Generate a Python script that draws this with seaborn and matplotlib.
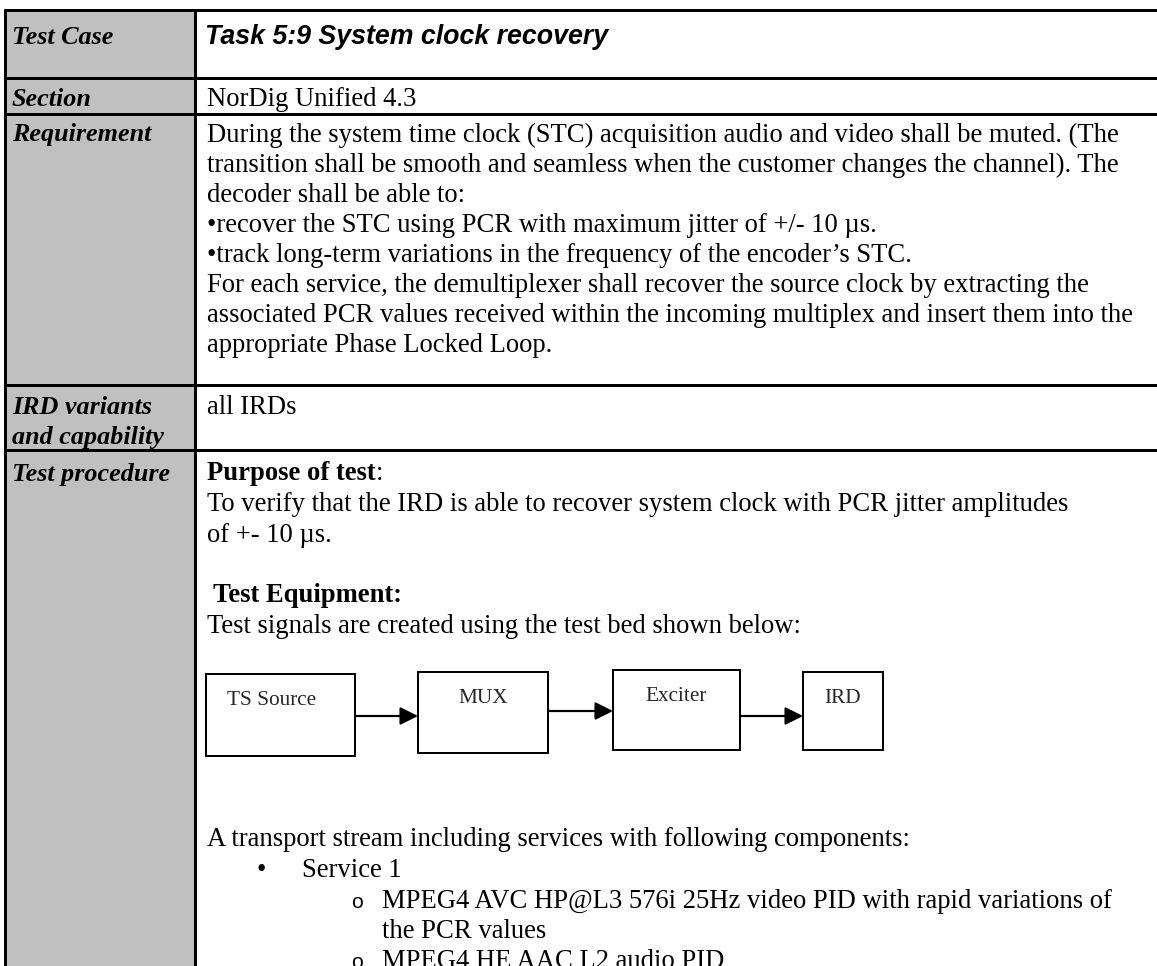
import matplotlib
matplotlib.use("Agg")
import matplotlib.pyplot as plt
import seaborn as sns
from matplotlib.patches import Rectangle

# ---------------- content ----------------
row_labels = [["Test Case"], ["Section"], ["Requirement"],
              ["IRD variants", "and capability"], ["Test procedure"]]
title_text = "Task 5:9 System clock recovery"
section_text = "NorDig Unified 4.3"
requirement_lines = [
    "During the system time clock (STC) acquisition audio and video shall be muted. (The",
    "transition shall be smooth and seamless when the customer changes the channel). The",
    "decoder shall be able to:",
    "\u2022recover the STC using PCR with maximum jitter of +/- 10 \u00b5s.",
    "\u2022track long-term variations in the frequency of the encoder\u2019s STC.",
    "For each service, the demultiplexer shall recover the source clock by extracting the",
    "associated PCR values received within the incoming multiplex and insert them into the",
    "appropriate Phase Locked Loop.",
]
ird_lines = ["all IRDs"]
purpose_heading = "Purpose of test"
purpose_lines = [
    "To verify that the IRD is able to recover system clock with PCR jitter amplitudes",
    "of +- 10 \u00b5s.",
]
equipment_heading = " Test Equipment:"
equipment_line = "Test signals are created using the test bed shown below:"
diagram_labels = ["TS Source", "MUX", "Exciter", "IRD"]
stream_intro = "A transport stream including services with following components:"
service_items = ["Service 1"]
component_items = [
    ["MPEG4 AVC HP@L3 576i 25Hz video PID with rapid variations of", "the PCR values"],
    ["MPEG4 HE AAC L2 audio PID"],
]

# ---------------- layout (pixels) ----------------
W, H, DPI = 1157, 966, 100
X_LEFT, X_DIV = 5, 195
ROW_LINES = [10, 78, 114, 385, 450]
REQ_SP = 30.0
LINE_SP = 30.5
TXT_X = 207
LBL_X = 12
BASE_OFF = 9.5
GRAY = "#c0c0c0"

# diagram boxes: (x0, x1, y0, y1)
BOXES = [(206, 355, 674, 756), (418, 548, 672, 753),
         (613, 740, 670, 750), (803, 883, 672, 750)]
ARROW_Y = [716, 711, 716]

sns.set_theme(style="white")
plt.rcParams['font.family'] = ['Liberation Serif', 'DejaVu Serif']

fig = plt.figure(figsize=(W / DPI, H / DPI), dpi=DPI)
ax = fig.add_axes([0, 0, 1, 1])
ax.set_xlim(0, W)
ax.set_ylim(H, 0)
ax.axis('off')
renderer = fig.canvas.get_renderer()


def calib(text, target_px, **kw):
    t = ax.text(0, 0, text, fontsize=20, **kw)
    w = t.get_window_extent(renderer).width
    t.remove()
    return 20 * target_px / w


FS = calib(purpose_lines[0], 862)
FS_LBL = calib("Test procedure", 158, fontweight='bold', fontstyle='italic')
FS_TITLE = calib(title_text, 403, family='Liberation Sans', fontweight='bold', fontstyle='italic')
FS_DIA = calib("TS Source", 89)

# ---------------- table background & borders ----------------
ax.add_patch(Rectangle((X_LEFT, ROW_LINES[0]), X_DIV - X_LEFT, H - ROW_LINES[0],
                       facecolor=GRAY, edgecolor='none', zorder=0))
lw_tab = 3 * 72 / DPI
ax.hlines(ROW_LINES, X_LEFT - 1.5, W + 5, colors='black', lw=lw_tab, zorder=3)
ax.vlines([X_LEFT, X_DIV], ROW_LINES[0] - 1.5, H + 5, colors='black', lw=lw_tab, zorder=3)


def body(x, yc, s, **kw):
    kw.setdefault('fontsize', FS)
    return ax.text(x, yc + BASE_OFF, s, va='baseline', ha='left', color='black', **kw)


REQ0 = 132
SEC_Y = 96
TITLE_Y = 35

# ---------------- left column labels ----------------
label_centers = [[TITLE_Y], [SEC_Y], [REQ0], [404, 434.5], [471]]
for lines, cents in zip(row_labels, label_centers):
    for s, yc in zip(lines, cents):
        body(LBL_X, yc, s, fontsize=FS_LBL, fontweight='bold', fontstyle='italic')

# ---------------- right column ----------------
body(TXT_X - 2, TITLE_Y, title_text, fontsize=FS_TITLE, family='Liberation Sans',
     fontweight='bold', fontstyle='italic')
body(TXT_X, SEC_Y, section_text)
for k, s in enumerate(requirement_lines):
    body(TXT_X, REQ0 + k * REQ_SP, s)
for k, s in enumerate(ird_lines):
    body(TXT_X, 404 + k * LINE_SP, s)

P0 = 471


def py(i):
    return P0 + i * LINE_SP


t = body(TXT_X, py(0), purpose_heading, fontweight='bold')
ext = t.get_window_extent(renderer)
body(ext.x1, py(0), ":")
for k, s in enumerate(purpose_lines):
    body(TXT_X, py(1 + k), s)
body(TXT_X, py(4), equipment_heading, fontweight='bold')
body(TXT_X, py(5), equipment_line)

# diagram
lw_box = 2 * 72 / DPI
for (x0, x1, y0, y1), lab in zip(BOXES, diagram_labels):
    ax.add_patch(Rectangle((x0, y0), x1 - x0, y1 - y0, facecolor='white',
                           edgecolor='black', lw=lw_box, zorder=2))
    if lab == "TS Source":
        ax.text(x0 + 21, y0 + 24 + 7, lab, fontsize=FS_DIA, ha='left', va='baseline')
    else:
        ax.text((x0 + x1) / 2, y0 + 24 + 7, lab, fontsize=FS_DIA, ha='center', va='baseline')
for i, ay in enumerate(ARROW_Y):
    xa = BOXES[i][1]
    xb = BOXES[i + 1][0]
    ax.annotate("", xy=(xb, ay), xytext=(xa, ay),
                arrowprops=dict(arrowstyle='-|>', mutation_scale=27, lw=2.2 * 72 / DPI,
                                color='black', shrinkA=0, shrinkB=0), zorder=3)

body(TXT_X, py(12), stream_intro)
for k, s in enumerate(service_items):
    body(256, py(13 + k), "\u2022")
    body(302, py(13 + k), s)
idx = 14
for item in component_items:
    body(351, py(idx), "o", fontsize=FS * 0.8, family='Liberation Sans')
    for s in item:
        body(382, py(idx), s)
        idx += 1

fig.savefig("out.png", dpi=DPI, facecolor='white')
